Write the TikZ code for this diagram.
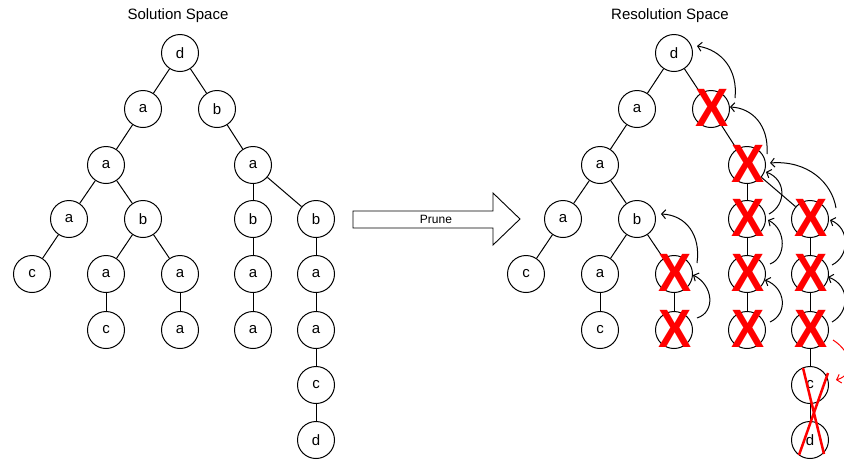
\documentclass[tikz,border=0pt]{standalone}
\usepackage{fontspec}
\setmainfont{Liberation Sans}
\usetikzlibrary{arrows.meta,calc}
\begin{document}
\begin{tikzpicture}[x=1pt,y=-1pt,
  vtx/.style={draw,circle,minimum size=37pt,inner sep=0pt,line width=1pt,font=\fontsize{15}{18}\selectfont},
  edge/.style={line width=1pt},
  back/.style={line width=1pt,-{Straight Barb[length=4pt,width=9pt]}},
  redback/.style={back,draw=red},
  xmark/.style={text=red,font=\fontsize{54}{54}\selectfont\bfseries,inner sep=0pt,xscale=0.92},
  strike/.style={draw=red,line width=2.5pt},
  title/.style={font=\fontsize{15}{18}\selectfont}]
\useasboundingbox (0,0) rectangle (844,459);

% titles
\node[title] (t1) at (178,16) {Solution Space};
\node[title] (t2) at (670,16) {Resolution Space};

% full tree
\foreach \n/\x/\y/\t in {n1/180/53/d, n2/143/109/a, n3/217/109/b, n4/106/165/a,
  n5/253/165/a, n6/69/219/a, n7/143/219/b, n8/253/219/b, n9/316/219/b,
  n10/32/274/c, n11/106/274/a, n12/180/274/a, n13/253/274/a, n14/316/274/a,
  n15/106/330/c, n16/180/330/a, n17/253/330/a, n18/316/330/a, n19/316/385/c,
  n20/316/440/d}
  \node[vtx] (L-\n) at (\x,\y) {\t};

% pruned tree
\foreach \n/\x/\y/\t in {n1/180/53/d, n2/143/109/a, n3/217/109/, n4/106/165/a,
  n5/253/165/, n6/69/219/a, n7/143/219/b, n8/253/219/, n9/316/219/,
  n10/32/274/c, n11/106/274/a, n12/180/274/, n13/253/274/, n14/316/274/,
  n15/106/330/c, n16/180/330/, n17/253/330/, n18/316/330/, n19/316/385/c,
  n20/316/440/d}
  \node[vtx] (R-\n) at (\x+494,\y) {\t};

% tree edges
\foreach \p in {L-,R-}
  \foreach \a/\b in {n1/n2, n1/n3, n2/n4, n3/n5, n4/n6, n4/n7, n5/n8, n5/n9,
    n6/n10, n7/n11, n7/n12, n8/n13, n9/n14, n11/n15, n12/n16, n13/n17,
    n14/n18, n18/n19, n19/n20}
    \draw[edge] (\p\a) -- (\p\b);

% prune arrow
\draw[line width=0.9pt] (353,211) -- (493,211) -- (493,193) -- (520,219)
  -- (493,245) -- (493,228) -- (353,228) -- cycle;
\node[font=\fontsize{12}{14}\selectfont] (prune) at (436,219) {Prune};

% backtracking arrows
\draw[back] ($(R-n3)+(24,-11)$) .. controls (738,70) and (722,50) .. ($(R-n1)+(23,-7)$);
\draw[back] ($(R-n5)+(20,-11)$) .. controls (769,125) and (752,108) .. ($(R-n3)+(19,-2)$);
\draw[back] ($(R-n9)+(26,-11)$) .. controls (832,183) and (808,160) .. ($(R-n5)+(23,-2)$);
\draw[back] ($(R-n8)+(22,-5)$) .. controls (786,205) and (787,180) .. ($(R-n5)+(19,7)$);
\draw[back] ($(R-n13)+(23,-10)$) .. controls (786,258) and (787,230) .. ($(R-n8)+(21,1)$);
\draw[back] ($(R-n17)+(23,-8)$) .. controls (788,314) and (786,288) .. ($(R-n13)+(18,6)$);
\draw[back] ($(R-n14)+(22,-9)$) .. controls (850,256) and (850,228) .. ($(R-n9)+(20,1)$);
\draw[back] ($(R-n18)+(22,-8)$) .. controls (850,312) and (850,285) .. ($(R-n14)+(18,3)$);
\draw[back] ($(R-n12)+(23,-11)$) .. controls (701,235) and (686,215) .. ($(R-n7)+(24,-5)$);
\draw[back] ($(R-n16)+(23,-12)$) .. controls (716,312) and (713,285) .. ($(R-n12)+(19,1)$);
\draw[redback] ($(R-n18)+(23,10)$) .. controls (852,352) and (856,374) .. ($(R-n19)+(26,-5)$);

% pruned nodes
\foreach \n in {n3,n5,n8,n9,n12,n13,n14,n16,n17,n18}
  \node[xmark] (X-\n) at ($(R-\n)+(1,-1)$) {X};

% struck-out tail
\draw[strike] ($(R-n19)+(-7,-17)$) -- ($(R-n20)+(14,14)$);
\draw[strike] ($(R-n19)+(18,-12)$) -- ($(R-n20)+(-11,15)$);
\end{tikzpicture}
\end{document}
